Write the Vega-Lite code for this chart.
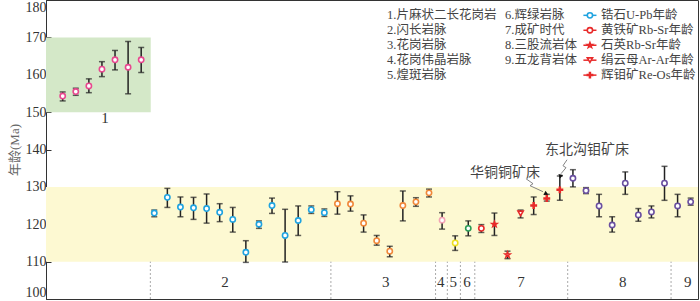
{
  "$schema": "https://vega.github.io/schema/vega-lite/v6.json",
  "width": 652,
  "height": 299,
  "autosize": {"type": "none"},
  "padding": {"left": 46, "top": 0, "right": 2, "bottom": 2},
  "background": "white",
  "config": {
    "view": {"stroke": "#333", "strokeWidth": 1},
    "axisY": {"grid": false, "tickSize": -5, "tickColor": "#333", "tickWidth": 1, "domainColor": "#333", "labelFlush": true, "labelOverlap": false, "labelBound": false, "labelFont": "Liberation Serif", "labelFontSize": 14, "labelColor": "#333", "labelPadding": 5, "titleFont": "Liberation Serif, Noto Sans CJK SC", "titleFontSize": 13, "titleFontWeight": "normal", "titleColor": "#666", "titlePadding": 4}
  },
  "datasets": {
    "bg": [
      {"x1": -1.276, "x2": 6.73, "y1": 150, "y2": 170, "zone": "g"},
      {"x1": -1.276, "x2": 48.56, "y1": 110, "y2": 130, "zone": "y"}
    ],
    "sep": [{"x": 6.7}, {"x": 20.5}, {"x": 28.5}, {"x": 29.4}, {"x": 30.4}, {"x": 31.5}, {"x": 38.6}, {"x": 46.5}],
    "pts": [
      {"i": 0, "age": 154.3, "lo": 153.0, "hi": 155.4, "group": "1", "method": "zircon"},
      {"i": 1, "age": 155.5, "lo": 154.5, "hi": 156.4, "group": "1", "method": "zircon"},
      {"i": 2, "age": 157.0, "lo": 155.2, "hi": 158.9, "group": "1", "method": "zircon"},
      {"i": 3, "age": 161.5, "lo": 159.5, "hi": 163.5, "group": "1", "method": "zircon"},
      {"i": 4, "age": 164.0, "lo": 161.3, "hi": 166.5, "group": "1", "method": "zircon"},
      {"i": 5, "age": 162.0, "lo": 154.9, "hi": 168.9, "group": "1", "method": "zircon"},
      {"i": 6, "age": 164.0, "lo": 160.6, "hi": 167.3, "group": "1", "method": "zircon"},
      {"i": 7, "age": 123.0, "lo": 122.0, "hi": 123.8, "group": "2", "method": "zircon"},
      {"i": 8, "age": 127.2, "lo": 124.5, "hi": 129.6, "group": "2", "method": "zircon"},
      {"i": 9, "age": 124.6, "lo": 122.0, "hi": 127.3, "group": "2", "method": "zircon"},
      {"i": 10, "age": 124.4, "lo": 121.3, "hi": 127.2, "group": "2", "method": "zircon"},
      {"i": 11, "age": 124.2, "lo": 120.3, "hi": 128.1, "group": "2", "method": "zircon"},
      {"i": 12, "age": 123.2, "lo": 120.7, "hi": 125.5, "group": "2", "method": "zircon"},
      {"i": 13, "age": 121.3, "lo": 117.9, "hi": 124.5, "group": "2", "method": "zircon"},
      {"i": 14, "age": 112.5, "lo": 109.8, "hi": 115.6, "group": "2", "method": "zircon"},
      {"i": 15, "age": 120.0, "lo": 118.9, "hi": 120.9, "group": "2", "method": "zircon"},
      {"i": 16, "age": 125.0, "lo": 122.9, "hi": 127.0, "group": "2", "method": "zircon"},
      {"i": 17, "age": 117.0, "lo": 109.9, "hi": 124.0, "group": "2", "method": "zircon"},
      {"i": 18, "age": 121.0, "lo": 117.0, "hi": 124.9, "group": "2", "method": "zircon"},
      {"i": 19, "age": 123.9, "lo": 122.9, "hi": 124.9, "group": "2", "method": "zircon"},
      {"i": 20, "age": 123.1, "lo": 122.1, "hi": 124.1, "group": "2", "method": "zircon"},
      {"i": 21, "age": 125.5, "lo": 122.7, "hi": 128.7, "group": "3", "method": "zircon"},
      {"i": 22, "age": 125.4, "lo": 123.5, "hi": 127.6, "group": "3", "method": "zircon"},
      {"i": 23, "age": 120.3, "lo": 117.9, "hi": 122.5, "group": "3", "method": "zircon"},
      {"i": 24, "age": 115.6, "lo": 114.4, "hi": 117.0, "group": "3", "method": "zircon"},
      {"i": 25, "age": 112.8, "lo": 111.3, "hi": 114.1, "group": "3", "method": "zircon"},
      {"i": 26, "age": 125.0, "lo": 120.9, "hi": 128.9, "group": "3", "method": "zircon"},
      {"i": 27, "age": 126.0, "lo": 124.8, "hi": 127.1, "group": "3", "method": "zircon"},
      {"i": 28, "age": 128.4, "lo": 127.3, "hi": 129.4, "group": "3", "method": "zircon"},
      {"i": 29, "age": 121.1, "lo": 118.7, "hi": 123.1, "group": "4", "method": "zircon"},
      {"i": 30, "age": 115.0, "lo": 113.0, "hi": 116.9, "group": "5", "method": "zircon"},
      {"i": 31, "age": 118.9, "lo": 116.9, "hi": 120.9, "group": "6", "method": "zircon"},
      {"i": 32, "age": 118.9, "lo": 117.8, "hi": 119.9, "group": "7", "method": "pyrite"},
      {"i": 33, "age": 120.0, "lo": 117.0, "hi": 123.0, "group": "7", "method": "quartz"},
      {"i": 34, "age": 111.8, "lo": 110.8, "hi": 112.8, "group": "7", "method": "quartz"},
      {"i": 35, "age": 122.9, "lo": 121.7, "hi": 123.8, "group": "7", "method": "sericite"},
      {"i": 36, "age": 125.0, "lo": 122.6, "hi": 127.3, "group": "7", "method": "moly"},
      {"i": 37, "age": 126.9, "lo": 126.2, "hi": 128.0, "group": "7", "method": "moly"},
      {"i": 38, "age": 129.2, "lo": 126.4, "hi": 132.9, "group": "7", "method": "moly"},
      {"i": 39, "age": 132.3, "lo": 130.0, "hi": 134.6, "group": "8", "method": "zircon"},
      {"i": 40, "age": 129.0, "lo": 128.2, "hi": 129.8, "group": "8", "method": "zircon"},
      {"i": 41, "age": 124.9, "lo": 122.0, "hi": 128.0, "group": "8", "method": "zircon"},
      {"i": 42, "age": 119.8, "lo": 117.9, "hi": 122.0, "group": "8", "method": "zircon"},
      {"i": 43, "age": 131.0, "lo": 128.0, "hi": 134.0, "group": "8", "method": "zircon"},
      {"i": 44, "age": 122.5, "lo": 120.8, "hi": 124.2, "group": "8", "method": "zircon"},
      {"i": 45, "age": 123.3, "lo": 121.7, "hi": 124.9, "group": "8", "method": "zircon"},
      {"i": 46, "age": 131.0, "lo": 126.4, "hi": 135.5, "group": "8", "method": "zircon"},
      {"i": 47, "age": 124.9, "lo": 122.0, "hi": 128.0, "group": "9", "method": "zircon"},
      {"i": 48, "age": 126.0, "lo": 125.1, "hi": 127.0, "group": "9", "method": "zircon"}
    ],
    "glabels": [
      {"t": "1", "x": 3.24, "y": 148.4},
      {"t": "2", "x": 12.41, "y": 104.5},
      {"t": "3", "x": 24.69, "y": 104.5},
      {"t": "4", "x": 28.89, "y": 104.5},
      {"t": "5", "x": 29.86, "y": 104.5},
      {"t": "6", "x": 30.9, "y": 104.5},
      {"t": "7", "x": 35.03, "y": 104.5},
      {"t": "8", "x": 42.8, "y": 104.5},
      {"t": "9", "x": 47.77, "y": 104.5}
    ],
    "legtext": [
      {"t": "1.片麻状二长花岗岩", "x": 24.79, "y": 175.9},
      {"t": "2.闪长岩脉", "x": 24.79, "y": 171.9},
      {"t": "3.花岗岩脉", "x": 24.79, "y": 167.9},
      {"t": "4.花岗伟晶岩脉", "x": 24.79, "y": 163.9},
      {"t": "5.煌斑岩脉", "x": 24.79, "y": 159.9},
      {"t": "6.辉绿岩脉", "x": 33.81, "y": 175.9},
      {"t": "7.成矿时代", "x": 33.81, "y": 171.9},
      {"t": "8.三股流岩体", "x": 33.81, "y": 167.9},
      {"t": "9.五龙背岩体", "x": 33.81, "y": 163.9},
      {"t": "锆石U-Pb年龄", "x": 41.15, "y": 175.9},
      {"t": "黄铁矿Rb-Sr年龄", "x": 41.15, "y": 171.9},
      {"t": "石英Rb-Sr年龄", "x": 41.15, "y": 167.9},
      {"t": "绢云母Ar-Ar年龄", "x": 41.15, "y": 163.9},
      {"t": "辉钼矿Re-Os年龄", "x": 41.15, "y": 159.9}
    ],
    "legsym": [
      {"x": 40.3, "x1": 39.8, "x2": 40.8, "y": 175.9, "group": "2", "method": "zircon"},
      {"x": 40.3, "x1": 39.8, "x2": 40.8, "y": 171.9, "group": "7", "method": "pyrite"},
      {"x": 40.3, "x1": 39.8, "x2": 40.8, "y": 167.9, "group": "7", "method": "quartz"},
      {"x": 40.3, "x1": 39.8, "x2": 40.8, "y": 163.9, "group": "7", "method": "sericite"},
      {"x": 40.3, "x1": 39.8, "x2": 40.8, "y": 159.9, "group": "7", "method": "moly"}
    ],
    "notes": [
      {"t": "华铜铜矿床", "x": 31.13, "y": 133.7},
      {"t": "东北沟钼矿床", "x": 36.86, "y": 139.9}
    ],
    "arrows": [
      {"id": "a", "o": 1, "x": 35.41, "y": 132.19},
      {"id": "a", "o": 2, "x": 35.95, "y": 130.85},
      {"id": "a", "o": 3, "x": 35.72, "y": 130.32},
      {"id": "a", "o": 4, "x": 36.71, "y": 128.72},
      {"id": "b", "o": 1, "x": 38.55, "y": 137.26},
      {"id": "b", "o": 2, "x": 38.24, "y": 135.66},
      {"id": "b", "o": 3, "x": 38.47, "y": 135.13},
      {"id": "b", "o": 4, "x": 38.09, "y": 133.53}
    ],
    "heads": [
      {"x": 36.92, "y": 128.25, "ang": 115},
      {"x": 38.05, "y": 132.95, "ang": 190}
    ]
  },
  "layer": [
    {
      "data": {"name": "bg"},
      "mark": {"type": "rect"},
      "encoding": {
        "x": {"field": "x1", "type": "quantitative", "scale": {"domain": [-1.276, 48.56], "nice": false, "zero": false}, "axis": null},
        "x2": {"field": "x2"},
        "y": {"field": "y1", "type": "quantitative", "title": "年龄(Ma)", "scale": {"domain": [100, 180], "nice": false, "zero": false},
          "axis": {"values": [100, 110, 120, 130, 140, 150, 160, 170, 180], "tickCount": 9, "labelOverlap": false}},
        "y2": {"field": "y2"},
        "color": {"field": "zone", "type": "nominal", "scale": {"domain": ["g", "y"], "range": ["#d4e8c8", "#fdf9d2"]}, "legend": null}
      }
    },
    {
      "data": {"name": "sep"},
      "mark": {"type": "rule", "color": "#aaa", "strokeDash": [2, 2], "strokeWidth": 1},
      "encoding": {
        "x": {"field": "x", "type": "quantitative"},
        "y": {"datum": 100, "type": "quantitative"},
        "y2": {"datum": 110}
      }
    },
    {
      "data": {"name": "pts"},
      "mark": {"type": "errorbar", "ticks": {"size": 6, "thickness": 1.5, "color": "#222"}, "rule": {"strokeWidth": 1.5, "color": "#222"}},
      "encoding": {
        "x": {"field": "i", "type": "quantitative"},
        "y": {"field": "lo", "type": "quantitative", "title": "年龄(Ma)"},
        "y2": {"field": "hi"}
      }
    },
    {
      "data": {"name": "pts"},
      "mark": {"type": "point", "strokeWidth": 1.6, "opacity": 1, "fillOpacity": 1},
      "encoding": {
        "x": {"field": "i", "type": "quantitative"},
        "y": {"field": "age", "type": "quantitative", "title": "年龄(Ma)"},
        "stroke": {"field": "group", "type": "nominal", "scale": {"domain": ["1", "2", "3", "4", "5", "6", "7", "8", "9"], "range": ["#e8488f", "#1fa3e0", "#f0883a", "#f4a3b5", "#eee020", "#2a9a55", "#e82a2a", "#6a4fa0", "#6a4fa0"]}, "legend": null},
        "fill": {"field": "method", "type": "nominal", "scale": {"domain": ["zircon", "pyrite", "quartz", "sericite", "moly"], "range": ["#ffffff", "#ffffff", "#ffe8e8", "#ffffff", "#e82a2a"]}, "legend": null},
        "shape": {"field": "method", "type": "nominal", "scale": {"domain": ["zircon", "pyrite", "quartz", "sericite", "moly"], "range": ["circle", "circle", "M0,-1L0.235,-0.324L0.951,-0.309L0.38,0.124L0.588,0.809L0,0.4L-0.588,0.809L-0.38,0.124L-0.951,-0.309L-0.235,-0.324Z", "triangle-down", "M-1,-0.17L1,-0.17L1,0.17L-1,0.17Z M-0.17,-1L0.17,-1L0.17,1L-0.17,1Z"]}, "legend": null},
        "size": {"field": "method", "type": "nominal", "scale": {"domain": ["zircon", "pyrite", "quartz", "sericite", "moly"], "range": [28, 28, 80, 45, 100]}, "legend": null}
      }
    },
    {
      "data": {"name": "glabels"},
      "mark": {"type": "text", "font": "Liberation Serif", "fontSize": 15, "color": "#333", "align": "center", "baseline": "middle"},
      "encoding": {
        "x": {"field": "x", "type": "quantitative"},
        "y": {"field": "y", "type": "quantitative", "title": "年龄(Ma)"},
        "text": {"field": "t"}
      }
    },
    {
      "data": {"name": "legtext"},
      "mark": {"type": "text", "font": "Liberation Serif, Noto Sans CJK SC", "fontSize": 12.5, "color": "#444", "align": "left", "baseline": "middle"},
      "encoding": {
        "x": {"field": "x", "type": "quantitative"},
        "y": {"field": "y", "type": "quantitative", "title": "年龄(Ma)"},
        "text": {"field": "t"}
      }
    },
    {
      "data": {"name": "legsym"},
      "mark": {"type": "rule", "strokeWidth": 1.5},
      "encoding": {
        "x": {"field": "x1", "type": "quantitative"},
        "x2": {"field": "x2"},
        "y": {"field": "y", "type": "quantitative", "title": "年龄(Ma)"},
        "stroke": {"field": "group", "type": "nominal", "legend": null}
      }
    },
    {
      "data": {"name": "legsym"},
      "mark": {"type": "point", "strokeWidth": 1.6, "opacity": 1, "fillOpacity": 1},
      "encoding": {
        "x": {"field": "x", "type": "quantitative"},
        "y": {"field": "y", "type": "quantitative", "title": "年龄(Ma)"},
        "stroke": {"field": "group", "type": "nominal", "legend": null},
        "fill": {"field": "method", "type": "nominal", "legend": null},
        "shape": {"field": "method", "type": "nominal", "legend": null},
        "size": {"field": "method", "type": "nominal", "legend": null}
      }
    },
    {
      "data": {"name": "notes"},
      "mark": {"type": "text", "font": "Noto Sans CJK SC", "fontSize": 14, "color": "#444", "align": "left", "baseline": "middle"},
      "encoding": {
        "x": {"field": "x", "type": "quantitative"},
        "y": {"field": "y", "type": "quantitative", "title": "年龄(Ma)"},
        "text": {"field": "t"}
      }
    },
    {
      "data": {"name": "arrows"},
      "mark": {"type": "line", "color": "#777", "strokeWidth": 0.9},
      "encoding": {
        "x": {"field": "x", "type": "quantitative"},
        "y": {"field": "y", "type": "quantitative", "title": "年龄(Ma)"},
        "detail": {"field": "id"},
        "order": {"field": "o"}
      }
    },
    {
      "data": {"name": "heads"},
      "mark": {"type": "point", "shape": "triangle", "filled": true, "color": "#111", "size": 22, "opacity": 1},
      "encoding": {
        "x": {"field": "x", "type": "quantitative"},
        "y": {"field": "y", "type": "quantitative", "title": "年龄(Ma)"},
        "angle": {"field": "ang", "type": "quantitative", "scale": null}
      }
    }
  ]
}
